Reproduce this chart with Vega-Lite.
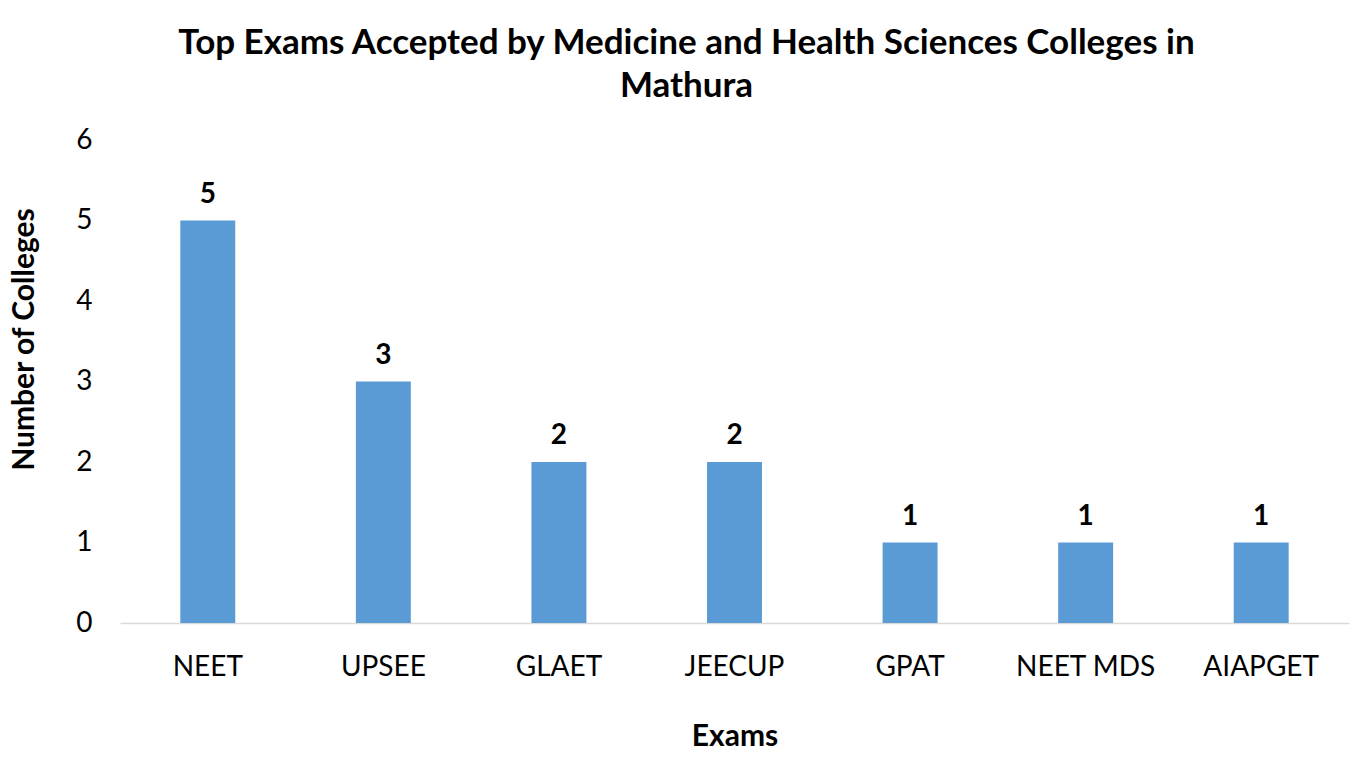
{
  "$schema": "https://vega.github.io/schema/vega-lite/v6.json",
  "width": 1229,
  "height": 483,
  "autosize": {"type": "none"},
  "padding": {"left": 120, "top": 140, "right": 23, "bottom": 135},
  "background": "white",
  "config": {"view": {"stroke": null}, "font": "Lato"},
  "title": {
    "text": ["Top Exams Accepted by Medicine and Health Sciences Colleges in", "Mathura"],
    "font": "Lato",
    "fontSize": 35,
    "fontWeight": "bold",
    "color": "#000000",
    "anchor": "middle",
    "dx": -48,
    "offset": 22,
    "lineHeight": 43
  },
  "data": {
    "values": [
      {"exam": "NEET", "count": 5},
      {"exam": "UPSEE", "count": 3},
      {"exam": "GLAET", "count": 2},
      {"exam": "JEECUP", "count": 2},
      {"exam": "GPAT", "count": 1},
      {"exam": "NEET MDS", "count": 1},
      {"exam": "AIAPGET", "count": 1}
    ]
  },
  "encoding": {
    "x": {
      "field": "exam",
      "type": "nominal",
      "sort": null,
      "scale": {"paddingInner": 0.687, "paddingOuter": 0.3435},
      "axis": {
        "title": "Exams",
        "titleFont": "Lato",
        "titleFontSize": 30,
        "titleFontWeight": "bold",
        "titleColor": "#000000",
        "titlePadding": 40,
        "labelAngle": 0,
        "labelFont": "Lato",
        "labelFontSize": 28,
        "labelColor": "#000000",
        "labelPadding": 30,
        "ticks": false,
        "domainColor": "#d9d9d9",
        "domainWidth": 1.5,
        "grid": false
      }
    },
    "y": {
      "field": "count",
      "type": "quantitative",
      "scale": {"domain": [0, 6]},
      "axis": {
        "title": "Number of Colleges",
        "titleFont": "Lato",
        "titleFontSize": 30,
        "titleFontWeight": "bold",
        "titleColor": "#000000",
        "titlePadding": 36,
        "titleY": 199,
        "values": [0, 1, 2, 3, 4, 5, 6],
        "labelFont": "Lato",
        "labelFontSize": 28,
        "labelColor": "#000000",
        "labelPadding": 28,
        "ticks": false,
        "domain": false,
        "grid": false
      }
    }
  },
  "layer": [
    {"mark": {"type": "bar", "color": "#5b9bd5"}},
    {
      "mark": {"type": "text", "baseline": "bottom", "dy": -12, "fontSize": 28, "fontWeight": "bold", "font": "Lato", "color": "#000000"},
      "encoding": {"text": {"field": "count", "type": "quantitative"}}
    }
  ]
}
